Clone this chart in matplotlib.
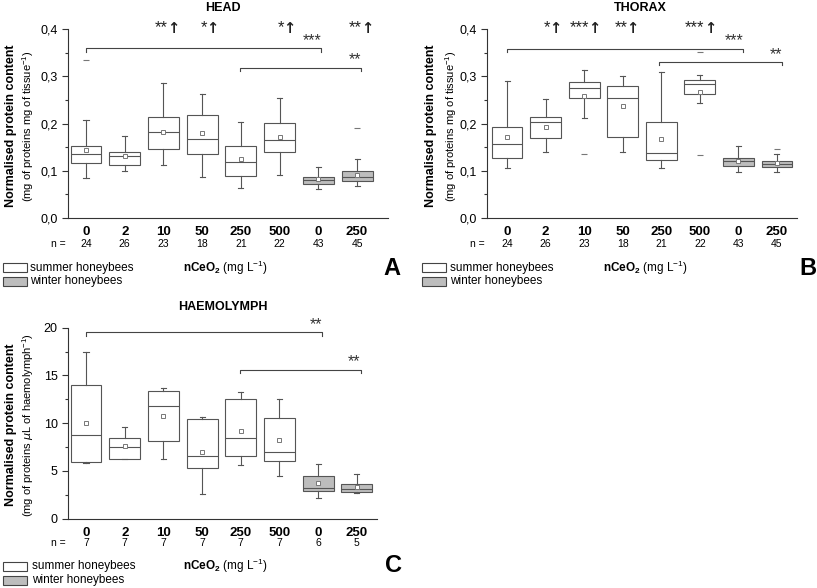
import matplotlib
matplotlib.use('Agg')
import matplotlib.pyplot as plt
from matplotlib.patches import Rectangle
from matplotlib.ticker import MultipleLocator, FuncFormatter
import matplotlib.transforms as mtransforms

plt.rcParams['font.family'] = ['Liberation Sans', 'DejaVu Sans']
plt.rcParams['mathtext.fontset'] = 'custom'
plt.rcParams['mathtext.rm'] = 'Liberation Sans'
plt.rcParams['mathtext.bf'] = 'Liberation Sans:bold'

# categories
doses = ['0', '2', '10', '50', '250', '500', '0', '250']
winter = [False, False, False, False, False, False, True, True]
n_head = [24, 26, 23, 18, 21, 22, 43, 45]
n_thorax = [24, 26, 23, 18, 21, 22, 43, 45]
n_haem = [7, 7, 7, 7, 7, 7, 6, 5]

# HEAD
head_lo = [0.084, 0.100, 0.113, 0.087, 0.063, 0.092, 0.061, 0.068]
head_q1 = [0.116, 0.113, 0.147, 0.135, 0.089, 0.140, 0.073, 0.079]
head_med = [0.135, 0.132, 0.181, 0.168, 0.118, 0.166, 0.080, 0.086]
head_q3 = [0.153, 0.139, 0.214, 0.218, 0.153, 0.202, 0.087, 0.100]
head_hi = [0.207, 0.173, 0.286, 0.263, 0.203, 0.254, 0.107, 0.124]
head_mean = [0.144, 0.131, 0.183, 0.179, 0.125, 0.171, 0.082, 0.092]
head_out = [[0.334], [], [], [], [], [], [], [0.190]]
head_stars = {3: '**', 4: '*', 6: '*', 8: '**'}

# THORAX
thx_lo = [0.106, 0.140, 0.212, 0.140, 0.106, 0.243, 0.097, 0.098]
thx_q1 = [0.126, 0.170, 0.254, 0.171, 0.123, 0.263, 0.111, 0.108]
thx_med = [0.156, 0.203, 0.276, 0.253, 0.137, 0.283, 0.121, 0.115]
thx_q3 = [0.193, 0.213, 0.288, 0.280, 0.204, 0.292, 0.127, 0.121]
thx_hi = [0.290, 0.252, 0.314, 0.301, 0.309, 0.302, 0.153, 0.135]
thx_mean = [0.171, 0.193, 0.259, 0.237, 0.167, 0.267, 0.120, 0.116]
thx_out = [[], [], [0.135], [], [], [0.352, 0.134], [], [0.146]]
thx_stars = {2: '*', 3: '***', 4: '**', 6: '***'}

# HAEMOLYMPH
hae_lo = [5.83, 6.28, 6.20, 2.59, 5.59, 4.47, 2.17, 2.66]
hae_q1 = [5.90, 6.28, 8.17, 5.31, 6.53, 6.04, 2.90, 2.76]
hae_med = [8.76, 7.54, 11.80, 6.53, 8.45, 6.95, 3.18, 3.08]
hae_q3 = [14.00, 8.48, 13.40, 10.44, 12.53, 10.58, 4.44, 3.66]
hae_hi = [17.49, 9.60, 13.72, 10.60, 13.30, 12.57, 5.73, 4.71]
hae_mean = [10.05, 7.64, 10.75, 7.02, 9.18, 8.21, 3.71, 3.35]
hae_out = [[], [], [], [], [], [], [], []]

W, H = 817, 588
fig = plt.figure(figsize=(W / 100, H / 100), dpi=100)
EDGE = '#555555'
GREY = '#bdbdbd'


def fx(x):
    return x / W


def fy(y):
    return 1 - y / H


def panel(rect, lo, q1, med, q3, hi, mean, out, xlim, ylim, step, fmt):
    ax = fig.add_axes([fx(rect[0]), fy(rect[3]), fx(rect[2] - rect[0]), (rect[3] - rect[1]) / H])
    stats = []
    for i in range(len(lo)):
        stats.append(dict(whislo=lo[i], q1=q1[i], med=med[i], q3=q3[i],
                          whishi=hi[i], mean=mean[i], fliers=out[i]))
    bp = ax.bxp(stats, positions=range(1, 9), widths=0.8, showmeans=True,
                patch_artist=True, capwidths=0.13,
                boxprops=dict(edgecolor=EDGE, linewidth=0.8),
                medianprops=dict(color=EDGE, linewidth=0.8),
                whiskerprops=dict(color=EDGE, linewidth=0.8),
                capprops=dict(color=EDGE, linewidth=0.8),
                meanprops=dict(marker='s', markersize=3, markerfacecolor='white',
                               markeredgecolor='#777777', markeredgewidth=0.7),
                flierprops=dict(marker='_', markersize=4, markeredgecolor='#777777',
                                markeredgewidth=0.8))
    for b, w in zip(bp['boxes'], winter):
        b.set_facecolor(GREY if w else 'white')
    ax.set_xlim(*xlim)
    ax.set_ylim(*ylim)
    for s in ['top', 'right']:
        ax.spines[s].set_visible(False)
    for s in ['left', 'bottom']:
        ax.spines[s].set_color('#333333')
        ax.spines[s].set_linewidth(0.8)
    ax.yaxis.set_major_locator(MultipleLocator(step))
    ax.yaxis.set_minor_locator(MultipleLocator(step / 2))
    ax.yaxis.set_major_formatter(FuncFormatter(lambda v, p: (fmt % v).replace('.', ',')))
    ax.tick_params(axis='y', which='major', length=4, width=0.8, labelsize=9, color='#333333')
    ax.tick_params(axis='y', which='minor', length=2, width=0.8, color='#333333')
    ax.set_xticks(range(1, 9))
    ax.set_xticklabels(doses, fontweight='bold', fontsize=9.5)
    ax.tick_params(axis='x', length=0, pad=6)
    return ax


def stars_up(ax, stars, y):
    # asterisks followed by a bold up arrow, centred over each box
    for k, s in stars.items():
        ax.annotate(s, (k + 0.12, y), xytext=(0, 0), textcoords='offset points',
                    ha='right', va='center', fontsize=12, color='#222222', annotation_clip=False)
        ax.annotate('↑', (k + 0.12, y), xytext=(-0.5, -0.5), textcoords='offset points',
                    ha='left', va='center', fontsize=10.5, fontweight='bold',
                    family='DejaVu Sans', color='#222222', annotation_clip=False)


def bracket(ax, x0, x1, y, d, label):
    ax.plot([x0, x0, x1, x1], [y - d, y, y, y - d], color='#444444', lw=0.8, clip_on=False)
    ax.text(x1, y + d * 0.1, label, ha='right', va='bottom', fontsize=11.5, color='#333333')


def n_row(ax, ns, ypx, xlab):
    tr = mtransforms.blended_transform_factory(ax.transData, fig.transFigure)
    for i, n in enumerate(ns):
        ax.text(i + 1, fy(ypx), str(n), transform=tr, ha='center', va='center', fontsize=7.5)
    fig.text(fx(xlab), fy(ypx), 'n =', ha='center', va='center', fontsize=7.5)


def legend(x, y1, y2, xt):
    for yy, c, lab in [(y1, 'white', 'summer honeybees'), (y2, GREY, 'winter honeybees')]:
        fig.add_artist(Rectangle((fx(x), fy(yy + 9)), fx(24), 9 / H, transform=fig.transFigure,
                                 facecolor=c, edgecolor='#444444', linewidth=0.8))
        fig.text(fx(xt), fy(yy + 4.5), lab, ha='left', va='center', fontsize=8.5)


def xlab(x, y):
    fig.text(fx(x), fy(y), r'$\mathbf{nCeO_2}$ (mg L$^{-1}$)', ha='center', va='center', fontsize=8.5)


def ylab(xb, xn, y, unit):
    fig.text(fx(xb), fy(y), 'Normalised protein content', rotation=90, ha='center', va='center',
             fontsize=9, fontweight='bold')
    fig.text(fx(xn), fy(y), unit, rotation=90, ha='center', va='center', fontsize=8)


# A: HEAD
ax1 = panel((68, 29, 388, 218), head_lo, head_q1, head_med, head_q3, head_hi, head_mean, head_out,
            (0.535, 8.8), (0, 0.4), 0.1, '%.1f')
stars_up(ax1, head_stars, 0.403)
bracket(ax1, 1, 7.08, 0.359, 0.007, '***')
bracket(ax1, 4.98, 8.1, 0.318, 0.007, '**')
fig.text(fx(223), fy(8), 'HEAD', ha='center', va='center', fontsize=9, fontweight='bold')
ylab(11, 28, 126, r'(mg of proteins mg of tissue$^{-1}$)')
n_row(ax1, n_head, 244, 58)
xlab(225, 268)
legend(3, 263, 277, 30)
fig.text(fx(392), fy(268), 'A', ha='center', va='center', fontsize=17, fontweight='bold')

# B: THORAX
ax2 = panel((487, 29, 797, 218), thx_lo, thx_q1, thx_med, thx_q3, thx_hi, thx_mean, thx_out,
            (0.48, 8.52), (0, 0.4), 0.1, '%.1f')
stars_up(ax2, thx_stars, 0.403)
bracket(ax2, 1, 7.12, 0.358, 0.007, '***')
bracket(ax2, 4.95, 8.13, 0.330, 0.007, '**')
fig.text(fx(640), fy(8), 'THORAX', ha='center', va='center', fontsize=9, fontweight='bold')
ylab(431, 451, 126, r'(mg of proteins mg of tissue$^{-1}$)')
n_row(ax2, n_thorax, 244, 477)
xlab(645, 268)
legend(422, 263, 277, 450)
fig.text(fx(808), fy(268), 'B', ha='center', va='center', fontsize=17, fontweight='bold')

# C: HAEMOLYMPH
ax3 = panel((68, 327.7, 377, 518.7), hae_lo, hae_q1, hae_med, hae_q3, hae_hi, hae_mean, hae_out,
            (0.535, 8.52), (0, 20), 5, '%d')
bracket(ax3, 1, 7.1, 19.52, 0.35, '**')
bracket(ax3, 4.98, 8.1, 15.6, 0.35, '**')
fig.text(fx(223), fy(307), 'HAEMOLYMPH', ha='center', va='center', fontsize=9, fontweight='bold')
ylab(11, 28, 425, r'(mg of proteins $\mu$L of haemolymph$^{-1}$)')
n_row(ax3, n_haem, 543, 58)
xlab(225, 566)
legend(3, 562, 576, 32)
fig.text(fx(393), fy(566), 'C', ha='center', va='center', fontsize=17, fontweight='bold')

fig.savefig('out.png', dpi=100)
